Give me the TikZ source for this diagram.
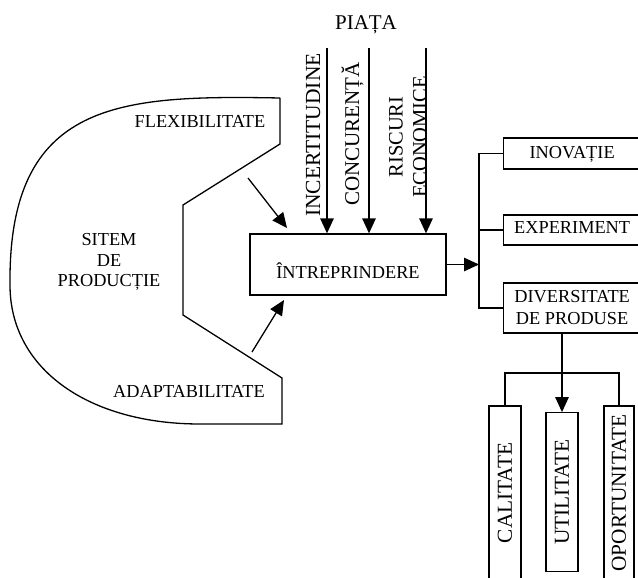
\documentclass[tikz,border=0pt]{standalone}
\usepackage{fontspec}
\setmainfont{Liberation Serif}
\usetikzlibrary{arrows.meta}

\begin{document}
\begin{tikzpicture}[x=1pt,y=-1pt,
  line width=1.3pt,
  every node/.style={inner sep=0pt, font=\fontsize{18.3}{22}\selectfont},
  tip/.style={-{Triangle[length=15pt,width=13.5pt]}},
  frame/.style={draw, rectangle},
  rbox/.style={frame, anchor=west, minimum width=138},
  vbox/.style={frame, rotate=90, minimum height=32, font=\fontsize{21.3}{24}\selectfont},
  vlabel/.style={rotate=90, anchor=base},
]
\useasboundingbox (0,0) rectangle (638,578);
\clip (0,0) rectangle (638,578);

% production system outline
\draw (280,98) -- (280,144) -- (183,205) -- (183,315) -- (282,378) -- (282,424)
  -- (200,424) .. controls (90,424) and (10,370) .. (10,285)
  .. controls (8,100) and (120,95) .. (280,98);

\node[align=center, font=\fontsize{18.3}{20.5}\selectfont] (sitem) at (109,262) {SITEM\\DE\\PRODUCȚIE};
\node[anchor=base] (flex) at (200,128) {FLEXIBILITATE};
\node[anchor=base] (adapt) at (189,397) {ADAPTABILITATE};

% the enterprise
\node[frame, minimum width=196, minimum height=61, text height=27pt, text depth=0pt]
  (intr) at (348,264.5) {ÎNTREPRINDERE};

% market pressures
\node[anchor=base, font=\fontsize{21}{24}\selectfont] (piata) at (366,30) {PIAȚA};
\node[vlabel, font=\fontsize{21.5}{24}\selectfont] (incert) at (320,135) {INCERTITUDINE};
\node[vlabel, font=\fontsize{21}{24}\selectfont] (concur) at (359,134) {CONCURENȚĂ};
\node[rotate=90, align=center, font=\fontsize{20.5}{24}\selectfont] (risc) at (408,137) {RISCURI\\ECONOMICE};

\coordinate (a1) at (327,48);
\coordinate (a2) at (369,48);
\coordinate (a3) at (426,48);
\draw[tip] (a1) -- (a1 |- intr.north);
\draw[tip] (a2) -- (a2 |- intr.north);
\draw[tip] (a3) -- (a3 |- intr.north);

% inputs from the production system
\coordinate (f1) at (248,178);
\coordinate (f2) at (287,228);
\draw[tip] (f1) -- (f2);
\coordinate (g1) at (252,352);
\coordinate (g2) at (284,300);
\draw[tip] (g1) -- (g2);

% outcomes
\node[rbox, minimum height=31, text height=9pt, text depth=0pt] (inov) at (502.5,153.5) {INOVAȚIE};
\node[rbox, minimum height=30, text height=6pt, text depth=0pt] (exp) at (502.5,230) {EXPERIMENT};
\node[rbox, minimum height=50, align=center] (div) at (502.5,308) {DIVERSITATE\\DE PRODUSE};

\coordinate (j) at (479,264.5);
\draw[tip] (intr.east) -- (j);
\draw (inov.west) -- (inov.west -| j) -- (div.west -| j) -- (div.west);
\draw (exp.west -| j) -- (exp.west);

% product qualities
\node[vbox, minimum width=174] (cal) at (505,493) {CALITATE};
\node[vbox, minimum width=158.5] (util) at (562,492) {UTILITATE};
\node[vbox, minimum width=174, minimum height=30] (opo) at (619,493) {OPORTUNITATE};

\coordinate (brk) at (562,373);
\draw (cal.east) -- (cal.east |- brk) -- (opo.east |- brk) -- (opo.east);
\draw[tip] (util.east |- div.south) -- (util.east);
\end{tikzpicture}
\end{document}
